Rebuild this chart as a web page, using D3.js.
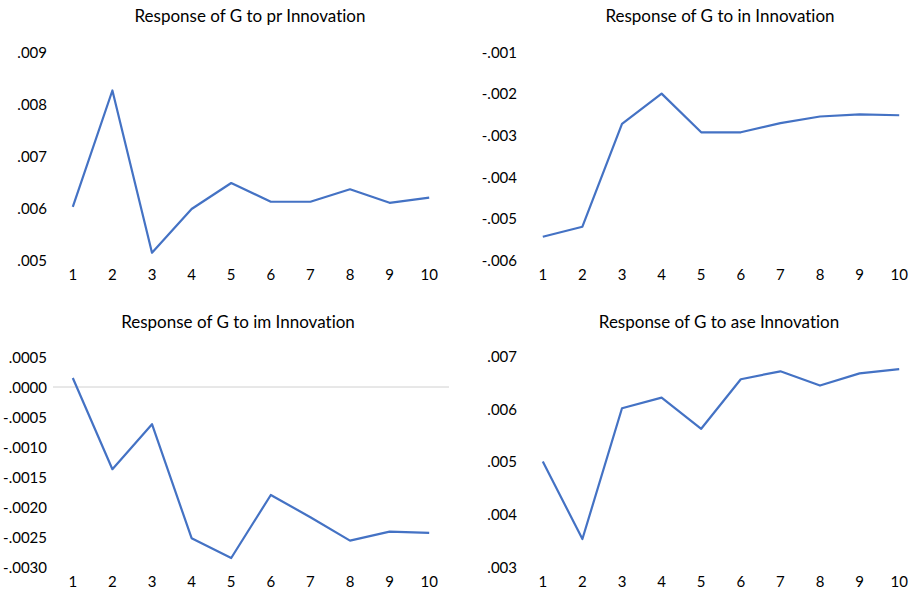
<!DOCTYPE html>
<html>
<head>
<meta charset="utf-8">
<script src="https://cdn.jsdelivr.net/npm/d3@7"></script>
<style>
  body { margin: 0; background: #fff; }
  svg { display: block; }
  text { font-variant-ligatures: none; }
  .title { font-family: Lato, "Open Sans", sans-serif; font-size: 17px; fill: #000; }
  .tick text { font-family: Lato, "Open Sans", sans-serif; font-size: 15px; fill: #000; }
</style>
</head>
<body>
<div id="wrapper"></div>
<script>
// periods on x axis
const periods = [1, 2, 3, 4, 5, 6, 7, 8, 9, 10]

// response series
const prValues = [0.00602, 0.00826, 0.00514, 0.00598, 0.00648, 0.00612, 0.00612, 0.00636, 0.00610, 0.00620]
const inValues = [-0.00544, -0.00520, -0.00273, -0.00200, -0.00293, -0.00293, -0.00271, -0.00255, -0.00250, -0.00252]
const imValues = [0.00015, -0.00137, -0.00062, -0.00252, -0.00285, -0.00180, -0.00217, -0.00256, -0.00241, -0.00243]
const aseValues = [0.00500, 0.00353, 0.00601, 0.00621, 0.00562, 0.00656, 0.00671, 0.00644, 0.00667, 0.00675]

// y tick labels
const prTicks = [0.005, 0.006, 0.007, 0.008, 0.009]
const inTicks = [-0.006, -0.005, -0.004, -0.003, -0.002, -0.001]
const imTicks = [-0.003, -0.0025, -0.002, -0.0015, -0.001, -0.0005, 0, 0.0005]
const aseTicks = [0.003, 0.004, 0.005, 0.006, 0.007]

const titles = ['Response of G to pr Innovation', 'Response of G to in Innovation',
  'Response of G to im Innovation', 'Response of G to ase Innovation']

const width = 911, height = 593
const lineColor = '#4472C4'

const svg = d3.select('#wrapper').append('svg')
  .attr('width', width)
  .attr('height', height)

const panels = [
  { title: titles[0], values: prValues, ticks: prTicks, digits: 3, left: 53, top: 52, bottom: 260, tx: 250, ty: 22 },
  { title: titles[1], values: inValues, ticks: inTicks, digits: 3, left: 523, top: 52, bottom: 260, tx: 720, ty: 22 },
  { title: titles[2], values: imValues, ticks: imTicks, digits: 4, left: 53, top: 357, bottom: 567, tx: 238, ty: 328 },
  { title: titles[3], values: aseValues, ticks: aseTicks, digits: 3, left: 523, top: 356, bottom: 567, tx: 719, ty: 328 }
]

const plotWidth = 396

// Excel-style ".009" / "-.0005" labels with a plain hyphen
function tickLabel(digits) {
  const f = d3.format('.' + digits + 'f')
  return d => {
    const v = +d.toFixed(digits + 2)
    return (v < 0 ? '-' : '') + f(Math.abs(v)).replace(/^0\./, '.')
  }
}

panels.forEach(p => {
  const x = d3.scaleBand()
    .domain(periods)
    .range([p.left, p.left + plotWidth])

  const y = d3.scaleLinear()
    .domain(d3.extent(p.ticks))
    .range([p.bottom, p.top])

  const g = svg.append('g')

  g.append('text')
    .attr('class', 'title')
    .attr('x', p.tx)
    .attr('y', p.ty)
    .attr('text-anchor', 'middle')
    .text(p.title)

  // y axis, labels only
  const yAxis = g.append('g')
    .attr('transform', `translate(${p.left - 6},0)`)
    .call(d3.axisLeft(y).tickValues(p.ticks).tickFormat(tickLabel(p.digits)).tickSize(0).tickPadding(0))
  yAxis.select('.domain').remove()
  yAxis.selectAll('.tick text').attr('dy', '0.35em')

  // x axis labels below the plot
  const xAxis = g.append('g')
    .attr('transform', `translate(0,${p.bottom + 9})`)
    .call(d3.axisBottom(x).tickSize(0).tickPadding(0))
  xAxis.select('.domain').remove()
  xAxis.selectAll('.tick text').attr('dy', '0.71em')

  // zero line when zero sits inside the range
  const [lo, hi] = d3.extent(p.ticks)
  if (lo < 0 && hi > 0) {
    g.append('line')
      .attr('x1', p.left).attr('x2', p.left + plotWidth)
      .attr('y1', y(0)).attr('y2', y(0))
      .attr('stroke', '#d0d0d0')
      .attr('stroke-width', 1)
  }

  const line = d3.line()
    .x((d, i) => x(periods[i]) + x.bandwidth() / 2)
    .y(d => y(d))

  g.append('path')
    .datum(p.values)
    .attr('d', line)
    .attr('fill', 'none')
    .attr('stroke', lineColor)
    .attr('stroke-width', 2.2)
    .attr('stroke-linejoin', 'round')
})
</script>
</body>
</html>
